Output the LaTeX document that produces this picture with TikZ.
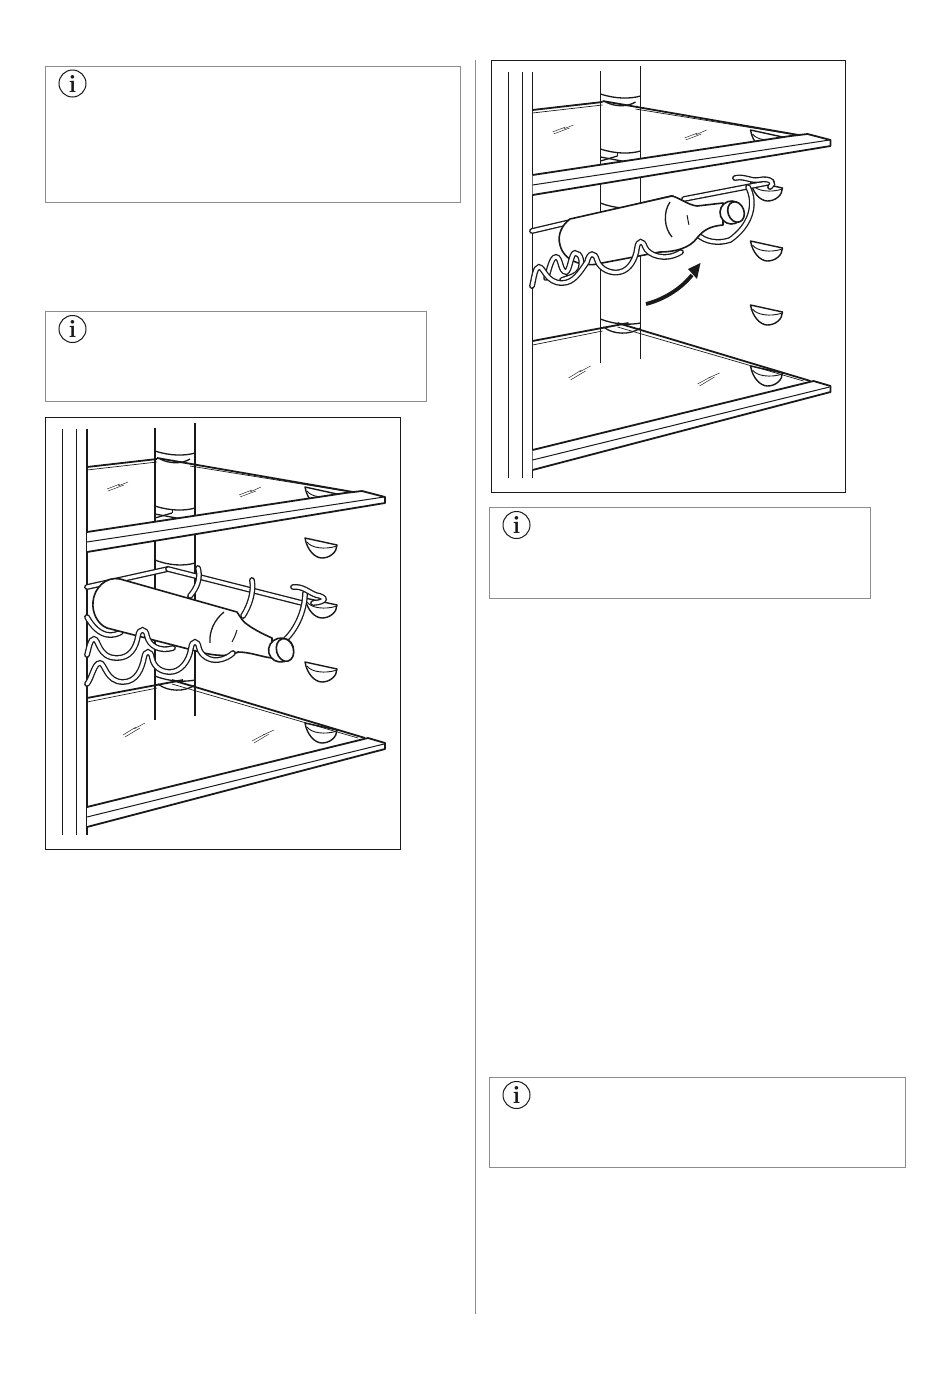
\documentclass[tikz,border=0pt]{standalone}
\usetikzlibrary{calc}
\definecolor{boxgray}{gray}{0.55}
\definecolor{ink}{gray}{0.1}
\tikzset{
  x=1pt,y=-1pt,
  notebox/.style={draw=boxgray,line width=0.8pt},
  infoicon/.style={circle,draw=ink,line width=1pt,minimum size=27pt,inner sep=0pt,text=ink,font=\fontsize{25}{25}\selectfont\bfseries},
  framebox/.style={draw=ink,line width=1pt},
  thick line/.style={draw=ink,line width=1.8pt},
  mid line/.style={draw=ink,line width=1.3pt},
  thin line/.style={draw=ink,line width=0.7pt},
  hair/.style={draw=ink,line width=0.45pt},
  wire/.style={draw=ink,line width=1.3pt,double=white,double distance=3.2pt,line cap=round},
  body/.style={draw=ink,line width=1.6pt,fill=white,line join=round},
  peg/.style={draw=ink,line width=1.4pt,fill=white,line join=round},
}
\newcommand{\drawpeg}[2]{%
  \begin{scope}[shift={(#1,#2)}]
    \draw[peg] (0,0) .. controls (2,12) and (10,20) .. (17,20) .. controls (25,20) and (32,14) .. (32,7) -- cycle;
    \draw[thin line,line width=.9pt] (2,4) .. controls (6,10) and (20,12) .. (32,8);
  \end{scope}}
\newcommand{\drawcabinet}{%
  \draw[framebox] (45.5,417.5) rectangle (400,849.5);
  \draw[thin line,line width=1pt] (62.5,429) -- (62.5,835);
  \draw[thin line,line width=1pt] (76.5,429) -- (76.5,835);
  \draw[thick line] (87,429) -- (87,835);
  % column
  \draw[mid line,line width=1.6pt] (155,428) -- (155,720);
  \draw[mid line,line width=1.6pt] (195,423) -- (195,716);
  \draw[mid line] (155,451) .. controls (170,456) and (185,456) .. (195,453);
  \draw[mid line] (160,459) .. controls (170,464) and (182,464) .. (190,459);
  \draw[mid line] (155,506) .. controls (170,511) and (185,511) .. (195,508);
  \draw[thin line] (172,510) -- (172,513);
  \draw[mid line] (155,514) -- (187,520);
  \draw[mid line] (155,518) -- (172,513);
  \draw[mid line] (155,560) .. controls (170,566) and (185,566) .. (195,563);
  \draw[mid line] (155,676) .. controls (170,682) and (185,682) .. (195,680);
  \draw[mid line] (158,684) .. controls (168,692) and (185,692) .. (195,685);
  % pegs behind the rails
  \drawpeg{305}{487}
  \drawpeg{305}{538}
  \drawpeg{305}{598}
  \drawpeg{305}{662}
  \drawpeg{305}{723}
  % upper shelf
  \draw[thick line] (87,467) -- (157,459);
  \draw[thin line] (87,470) -- (157,462);
  \draw[thick line] (157,458) -- (353,492);
  \draw[thin line] (190,466) -- (345,491);
  \fill[white] (87,532) -- (362,491) -- (385,497) -- (385,503) -- (87,552) -- cycle;
  \draw[thick line,line join=round] (87,532) -- (345,493) -- (362,491) -- (385,497) -- (385,503) -- (87,552);
  \draw[thin line,line width=1pt] (87,542) -- (384,497);
  % lower shelf
  \draw[thick line] (87,698) -- (183,680);
  \draw[thin line] (87,702) -- (157,688);
  \draw[thick line] (172,680) -- (365,738);
  \draw[thin line] (172,684) -- (358,738);
  \fill[white] (87,807) -- (368,738) -- (385,743) -- (385,749) -- (87,827) -- cycle;
  \draw[thick line,line join=round] (87,807) -- (368,738) -- (385,743) -- (385,749) -- (87,827);
  \draw[thin line,line width=1pt] (87,817) -- (384,744);
  % scratches
  \draw[hair] (107,489) -- (120,484); \draw[hair] (118,486) -- (128,482);
  \draw[hair] (108,491) -- (124,485);
  \draw[hair] (239,495) -- (252,490); \draw[hair] (250,492) -- (261,487);
  \draw[hair] (240,497) -- (256,491);
  \draw[hair] (123,735) -- (136,727); \draw[hair] (134,729) -- (145,723);
  \draw[hair] (125,737) -- (140,728);
  \draw[hair] (252,741) -- (265,734); \draw[hair] (263,735) -- (274,730);
  \draw[hair] (254,743) -- (269,734);
}
\begin{document}
\begin{tikzpicture}
\useasboundingbox (0,0) rectangle (950,1374);
\fill[white] (0,0) rectangle (950,1374);
% divider
\coordinate (divA) at (475.5,60); \coordinate (divB) at (475.5,1314);
\draw[notebox] (divA) -- (divB);
% note boxes
\draw[notebox] (45.5,66.5) rectangle (460.5,202.5);
\node[infoicon] (iconA) at (72.5,83.5) {i};
\draw[notebox] (45.5,311.5) rectangle (426.5,401.5);
\node[infoicon] (iconB) at (72.5,329) {i};
\draw[notebox] (489.5,507.5) rectangle (870.5,598.5);
\node[infoicon] (iconC) at (516.5,525) {i};
\draw[notebox] (489.5,1077) rectangle (905.5,1167.5);
\node[infoicon] (iconD) at (516.5,1095) {i};
% left figure
\drawcabinet
\draw[wire] (87,587) -- (168,569);
\draw[wire] (168,569) -- (302,603);
\draw[wire] (198,568) .. controls (201,578) and (197,588) .. (190,596);
\draw[wire] (252,580) .. controls (254,592) and (250,605) .. (243,616);
\draw[wire] (305,593) .. controls (305,610) and (297,628) .. (286,639);
\draw[wire] (293,587) .. controls (303,586) and (308,592) .. (316,595) .. controls (327,597) and (327,602) .. (313,603);
\draw[wire] (87,617) .. controls (92,626) and (100,635) .. (110,635) .. controls (114,635) and (118,634) .. (121,632);
\draw[body] (120,579) -- (237,612) .. controls (241,618) and (243,622) .. (248,625) .. controls (255,630) and (263,634) .. (272,638)
  -- (272,658) .. controls (262,657) and (250,652) .. (238,652) .. controls (230,657) and (215,656) .. (200,652)
  -- (107,628) .. controls (97,624) and (92,612) .. (93,602) .. controls (94,588) and (106,576) .. (120,579) -- cycle;
\draw[mid line] (224,612) .. controls (214,620) and (209,632) .. (210,643);
\draw[thin line,line width=1pt] (237,630) .. controls (235,636) and (234,639) .. (232,642);
\draw[body,rotate around={15:(281,650)}] (281,650) ellipse (12.5 and 12);
\draw[body,rotate around={15:(285,650)}] (285,650) ellipse (8.5 and 11.5);
\draw[wire] (87,655) .. controls (89,648) and (90,639) .. (94,639) .. controls (99,639) and (98,658) .. (117,658) .. controls (130,658) and (136,648) .. (138,636) .. controls (139,628) and (146,628) .. (147,636) .. controls (149,646) and (160,652) .. (173,648);
\draw[wire] (87,684) .. controls (92,678) and (94,663) .. (100,663) .. controls (105,663) and (106,682) .. (123,682) .. controls (137,682) and (142,668) .. (144,658) .. controls (145,650) and (151,650) .. (152,658) .. controls (154,668) and (162,672) .. (170,672) .. controls (180,672) and (189,662) .. (191,648) .. controls (192,640) and (198,640) .. (199,648) .. controls (201,656) and (210,661) .. (218,660) .. controls (225,659) and (230,656) .. (233,653);
% right figure
\begin{scope}[shift={(445.5,-357)}]
\drawcabinet
\end{scope}
\draw[wire] (532,231) -- (672,198);
\draw[wire] (684,199) -- (772,182);
\draw[wire] (735,178) .. controls (745,176) and (750,181) .. (758,180) .. controls (772,177) and (775,184) .. (770,187);
\draw[wire] (748,187) .. controls (757,205) and (750,226) .. (730,240) .. controls (718,244) and (705,242) .. (697,234);
\draw[body] (570,219) -- (672,196) .. controls (680,198) and (688,205) .. (697,206) -- (723,203) -- (723,225) .. controls (712,226) and (704,229) .. (697,238) .. controls (690,248) and (675,252) .. (660,252)
  -- (602,263) .. controls (585,268) and (564,262) .. (560,245) .. controls (557,235) and (562,225) .. (570,219) -- cycle;
\draw[mid line] (670,202) .. controls (663,212) and (664,228) .. (672,237);
\draw[thin line,line width=1pt] (687,215) .. controls (688,219) and (688,222) .. (689,225);
\draw[body,rotate around={20:(731.5,212.5)}] (731.5,212.5) ellipse (11.5 and 11.5);
\draw[body,rotate around={20:(736,212)}] (736,212) ellipse (8 and 10.5);
\draw[wire] (546,278) .. controls (549,272) and (551,257) .. (556,257) .. controls (561,257) and (560,272) .. (566,272) .. controls (570,271) and (571,253) .. (575,253) .. controls (581,253) and (583,262) .. (580,270) .. controls (577,276) and (570,277) .. (562,280);
\draw[wire] (532,286) .. controls (534,278) and (535,267) .. (539,267) .. controls (544,267) and (546,283) .. (562,283) .. controls (574,283) and (580,272) .. (587,262) .. controls (589,252) and (595,252) .. (597,260) .. controls (600,270) and (612,274) .. (620,272) .. controls (630,270) and (636,258) .. (637,248) .. controls (638,240) and (643,240) .. (645,247) .. controls (648,255) and (665,262) .. (681,252);
\coordinate (arrA) at (646,304);
\coordinate (arrB) at (692,275);
\draw[ink,line width=3.8pt] (arrA) .. controls (662,300) and (680,290) .. (arrB);
\fill[ink] (700.5,263) -- (688,269) -- (697,279) -- cycle;
\end{tikzpicture}
\end{document}
